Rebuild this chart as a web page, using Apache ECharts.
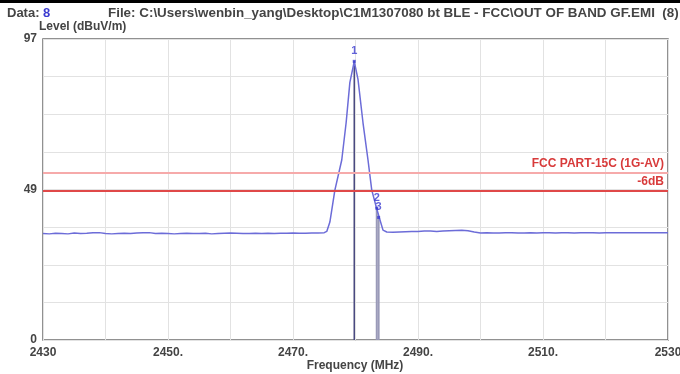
<!DOCTYPE html>
<html>
<head>
<meta charset="utf-8">
<script src="https://cdn.jsdelivr.net/npm/echarts@6/dist/echarts.min.js"></script>
<style>
  html, body { margin: 0; padding: 0; background: #fff; }
  #chart { width: 680px; height: 374px; }
</style>
</head>
<body>
<div id="chart"></div>
<script>
// measured trace (MHz / dBuV/m)
const freqs = [
  2430, 2431, 2432, 2433, 2434, 2435, 2436, 2437, 2438, 2439,
  2440, 2441, 2442, 2443, 2444, 2445, 2446, 2447, 2448, 2449,
  2450, 2451, 2452, 2453, 2454, 2455, 2456, 2457, 2458, 2459,
  2460, 2461, 2462, 2463, 2464, 2465, 2466, 2467, 2468, 2469,
  2470, 2471, 2472, 2473, 2474, 2475,
  2475.4, 2475.9, 2476.7, 2477.8, 2478.5, 2479.1, 2479.8, 2480.4, 2481.2, 2482.0,
  2482.6, 2483.3, 2483.8, 2484.4,
  2485, 2486, 2487, 2488, 2489, 2490, 2491, 2492, 2493, 2494,
  2495, 2496, 2497, 2498, 2499, 2500, 2501, 2502, 2503, 2504,
  2505, 2506, 2507, 2508, 2509, 2510, 2511, 2512, 2513, 2514,
  2515, 2516, 2517, 2518, 2519, 2520, 2521, 2522, 2523, 2524,
  2525, 2526, 2527, 2528, 2529, 2530
];
const levels = [
  34.3, 34.2, 34.4, 34.3, 34.2, 34.5, 34.3, 34.4, 34.6, 34.6,
  34.3, 34.2, 34.3, 34.4, 34.3, 34.5, 34.6, 34.6, 34.3, 34.4,
  34.3, 34.2, 34.3, 34.4, 34.3, 34.3, 34.4, 34.2, 34.3, 34.4,
  34.5, 34.4, 34.3, 34.3, 34.4, 34.3, 34.4, 34.3, 34.4, 34.4,
  34.5, 34.4, 34.4, 34.5, 34.5, 34.6,
  35.0, 38.0, 48.3, 58.0, 70.0, 83.0, 89.8, 84.0, 70.0, 58.0,
  48.3, 43.0, 39.5, 35.4,
  34.8, 34.7, 34.8, 34.9, 35.0, 35.0, 35.1, 35.1, 35.0, 35.1,
  35.2, 35.3, 35.4, 35.2, 34.8, 34.5, 34.6, 34.5, 34.5, 34.6,
  34.6, 34.5, 34.5, 34.6, 34.5, 34.6, 34.6, 34.5, 34.6, 34.6,
  34.5, 34.6, 34.6, 34.6, 34.5, 34.6, 34.6, 34.6, 34.6, 34.6,
  34.6, 34.6, 34.6, 34.6, 34.6, 34.6
];

// markers
const markerNames = ['1', '2', '3'];
const markerFreqs = [2479.8, 2483.4, 2483.7];
const markerLevels = [89.8, 42.5, 39.5];

// limit lines
const limitNames = ['FCC PART-15C (1G-AV)', '-6dB'];
const limitValues = [54, 48];

// tick labels
const xTickLabels = { 2430: '2430', 2450: '2450.', 2470: '2470.', 2490: '2490.', 2510: '2510.', 2530: '2530' };
const yTickLabels = ['0', '', '', '', '49', '', '', '', '97'];

const FONT = '"Liberation Sans Narrow", "Liberation Sans", Arial, sans-serif';

const chart = echarts.init(document.getElementById('chart'));

const markerSeries = markerNames.map((name, i) => ({
  type: 'line',
  silent: true,
  symbol: 'none',
  z: 3,
  lineStyle: { color: i === 0 ? '#4a4a80' : '#9a9ab8', width: i === 0 ? 1.5 : 2 },
  data: [[markerFreqs[i], 0], [markerFreqs[i], markerLevels[i]]]
}));

chart.setOption({
  animation: false,
  grid: {
    left: 43, right: 12, top: 39, bottom: 34,
    outerBoundsMode: 'none', containLabel: false,
    show: true, borderColor: '#6e6e6e', borderWidth: 1.5
  },
  graphic: [
    { type: 'rect', shape: { x: 0, y: 0, width: 680, height: 3 }, style: { fill: '#000' } },
    {
      type: 'text', left: 7, top: 7,
      style: {
        text: 'Data: {b|8}', font: 'bold 13px ' + FONT, fill: '#444',
        rich: { b: { fill: '#3b3bd0', font: 'bold 13px ' + FONT } }
      }
    },
    {
      type: 'text', left: 108, top: 7,
      style: { text: 'File: C:\\Users\\wenbin_yang\\Desktop\\C1M1307080 bt BLE - FCC\\OUT OF BAND GF.EMI  (8)', font: 'bold 13.4px ' + FONT, fill: '#444' }
    },
    {
      type: 'text', x: 355, y: 366,
      style: {
        text: 'Frequency (MHz)', font: 'bold 12px ' + FONT, fill: '#444',
        align: 'center', verticalAlign: 'middle'
      }
    }
  ],
  xAxis: {
    type: 'value', min: 2430, max: 2530, interval: 10,
    axisLine: { show: false }, axisTick: { show: false },
    axisLabel: {
      color: '#444', fontFamily: FONT, fontWeight: 'bold', fontSize: 12, margin: 7,
      formatter: v => xTickLabels[v] || ''
    },
    splitLine: { lineStyle: { color: '#e2e2e2', width: 1 } }
  },
  yAxis: {
    type: 'value', min: 0, max: 97, interval: 97 / 8,
    name: 'Level (dBuV/m)', nameLocation: 'end', nameGap: 5,
    nameTextStyle: { color: '#444', fontFamily: FONT, fontWeight: 'bold', fontSize: 12, align: 'left', padding: [0, 0, 0, -4] },
    axisLine: { show: false }, axisTick: { show: false },
    axisLabel: {
      color: '#444', fontFamily: FONT, fontWeight: 'bold', fontSize: 12, margin: 6,
      formatter: (v, i) => yTickLabels[i] || ''
    },
    splitLine: { lineStyle: { color: '#e2e2e2', width: 1 } }
  },
  series: [
    ...markerSeries,
    {
      type: 'line',
      silent: true,
      symbol: 'none',
      z: 4,
      lineStyle: { color: '#6c6cd8', width: 1.5 },
      data: freqs.map((f, i) => [f, levels[i]]),
      markLine: {
        silent: true,
        symbol: 'none',
        data: limitValues.map((v, i) => ({
          yAxis: v,
          lineStyle: { color: i === 0 ? '#f6aaaa' : '#e04848', width: 2, type: 'solid' },
          label: {
            formatter: limitNames[i], position: 'insideEndTop', distance: [4, 3],
            color: '#d83a3a', fontFamily: FONT, fontWeight: 'bold', fontSize: 12
          }
        }))
      }
    },
    {
      type: 'scatter',
      silent: true,
      z: 5,
      symbol: 'rect',
      symbolSize: [3, 3],
      itemStyle: { color: '#3b3bd0' },
      label: {
        show: true, formatter: p => markerNames[p.dataIndex], position: 'top', distance: 3,
        color: '#3b3bd0', fontFamily: FONT, fontWeight: 'bold', fontSize: 11
      },
      data: markerFreqs.map((f, i) => [f, markerLevels[i]])
    }
  ]
});
</script>
</body>
</html>
